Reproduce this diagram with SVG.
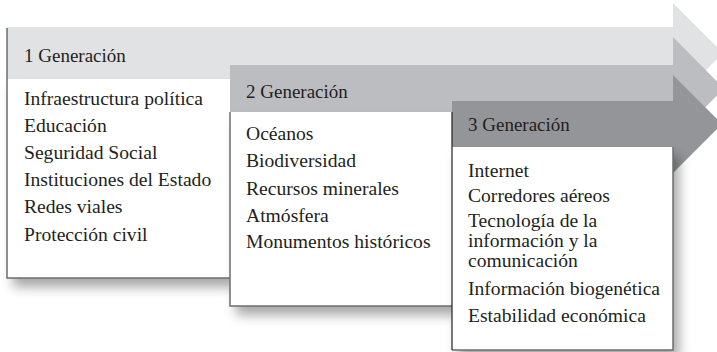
<svg xmlns="http://www.w3.org/2000/svg" width="717" height="352" viewBox="0 0 717 352">
<defs>
<filter id="sh" x="-10%" y="-10%" width="130%" height="140%">
<feDropShadow dx="6" dy="9" stdDeviation="6" flood-color="#000" flood-opacity="0.35"/>
</filter>
<style>
text{font-family:'Liberation Serif','Times New Roman',serif;fill:#231f20}
.t{font-size:19.6px}
.h{font-size:19px}
.body{fill:#fff;filter:url(#sh)}
.bd{fill:none;stroke:#6d6e71;stroke-width:1.5}
</style>
</defs>
<rect width="717" height="352" fill="#fff"/>
<g id="gen1" font-family="Liberation Serif, serif">
<polygon points="7,27 673,27 673,3 723,53 673,103 673,79 7,79" fill="#e1e2e4"/>
<rect class="body" x="7" y="79" width="223" height="199"/>
<polyline class="bd" points="7,28 7,278 230,278"/>
<text class="h" x="24" y="62">1 Generación</text>
<text class="t" x="24" y="105">Infraestructura política</text>
<text class="t" x="24" y="132">Educación</text>
<text class="t" x="24" y="159">Seguridad Social</text>
<text class="t" x="24" y="186">Instituciones del Estado</text>
<text class="t" x="24" y="213">Redes viales</text>
<text class="t" x="24" y="241">Protección civil</text>
</g>
<g id="gen2" font-family="Liberation Serif, serif">
<polygon points="230,65 673,65 673,37 724,88.5 673,140 673,112 230,112" fill="#bcbdc0"/>
<rect class="body" x="230" y="112" width="222" height="194"/>
<polyline class="bd" points="230,112 230,306 452,306"/>
<text class="h" x="246" y="98">2 Generación</text>
<text class="t" x="246" y="140">Océanos</text>
<text class="t" x="246" y="167">Biodiversidad</text>
<text class="t" x="246" y="195">Recursos minerales</text>
<text class="t" x="246" y="222">Atmósfera</text>
<text class="t" x="246" y="248">Monumentos históricos</text>
</g>
<g id="gen3" font-family="Liberation Serif, serif">
<polygon points="452,101 673,101 673,75 722,124 673,173 673,147 452,147" fill="#939598"/>
<rect class="body" x="452" y="147" width="221" height="203"/>
<polyline class="bd" points="452,350 673,350 673,147"/>
<line x1="452" y1="112" x2="452" y2="350" stroke="#231f20" stroke-width="1.2"/>
<text class="h" x="468" y="131">3 Generación</text>
<text class="t" x="468" y="177">Internet</text>
<text class="t" x="468" y="202">Corredores aéreos</text>
<text class="t" x="468" y="227">Tecnología de la</text>
<text class="t" x="468" y="247">información y la</text>
<text class="t" x="468" y="267">comunicación</text>
<text class="t" x="468" y="295">Información biogenética</text>
<text class="t" x="468" y="322">Estabilidad económica</text>
</g>
</svg>
